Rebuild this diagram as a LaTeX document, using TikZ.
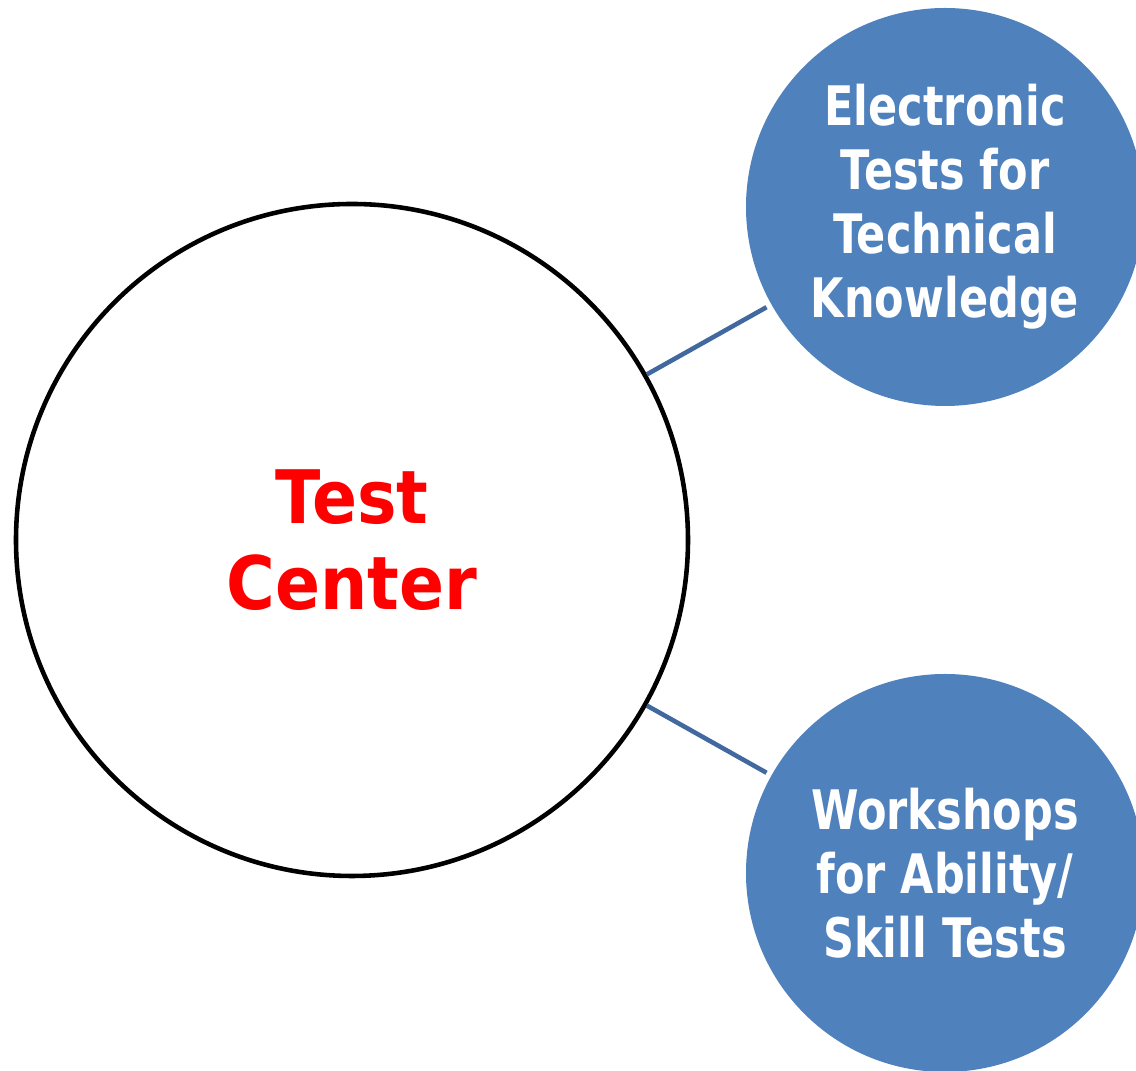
\documentclass[tikz,border=0pt]{standalone}
\usepackage{fontspec}
\newfontfamily\labelfont[FakeStretch=0.79]{DejaVu Sans}
\newfontfamily\titlefont[FakeStretch=0.9]{DejaVu Sans}
\usepackage{tikz}

\definecolor{bubbleblue}{HTML}{4F81BD}
\definecolor{linkblue}{HTML}{41699F}

\tikzset{
 center/.style={circle, draw=black, line width=1.3pt, minimum size=6.72cm, inner sep=0pt,
  text=red, align=center, font=\titlefont\bfseries\fontsize{21}{24.5}\selectfont},
 bubble/.style={circle, fill=bubbleblue, minimum size=3.98cm, inner sep=0pt,
  text=white, align=center, font=\labelfont\bfseries\fontsize{15.5}{18.2}\selectfont},
 link/.style={linkblue, line width=1.3pt, shorten >=0.05cm}
}

\begin{document}
\begin{tikzpicture}
 \useasboundingbox (0, 0) rectangle (11.36, 10.71);

 \node[center] (tc) at (3.52, 5.31) {Test\\Center};
 \node[bubble] (et) at (9.45, 8.64) {Electronic\\Tests for\\Technical\\Knowledge};
 \node[bubble] (ws) at (9.45, 1.98) {Workshops\\for Ability/\\Skill Tests};

 \draw[link] (tc) -- (et);
 \draw[link] (tc) -- (ws);
\end{tikzpicture}
\end{document}
